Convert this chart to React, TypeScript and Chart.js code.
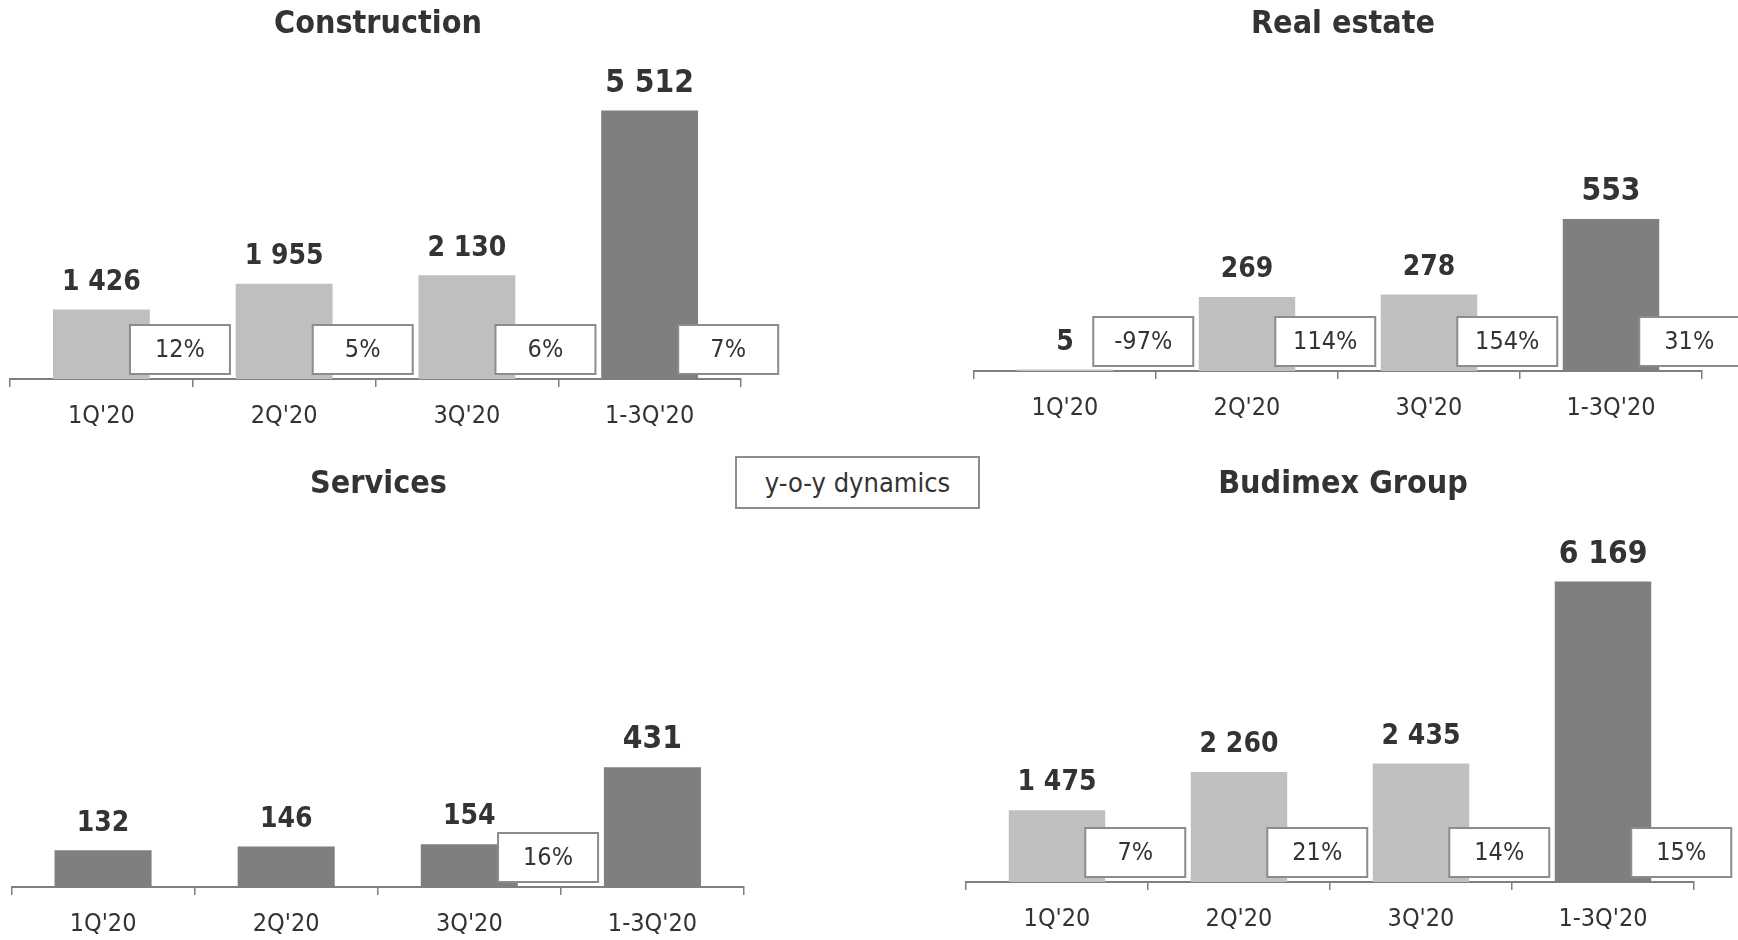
import React, { useEffect, useRef } from "react";
import { Chart, registerables } from "chart.js";

Chart.register(...registerables);

// ---------- data ----------
const categories = ["1Q'20", "2Q'20", "3Q'20", "1-3Q'20"];

const constructionTitle = "Construction";
const constructionValues = [1426, 1955, 2130, 5512];
const constructionYoY = ["12%", "5%", "6%", "7%"];

const realEstateTitle = "Real estate";
const realEstateValues = [5, 269, 278, 553];
const realEstateYoY = ["-97%", "114%", "154%", "31%"];

const servicesTitle = "Services";
const servicesValues = [132, 146, 154, 431];
const servicesYoY: (string | null)[] = [null, null, "16%", null];

const groupTitle = "Budimex Group";
const groupValues = [1475, 2260, 2435, 6169];
const groupYoY = ["7%", "21%", "14%", "15%"];

const legendLabel = "y-o-y dynamics";

// ---------- styles ----------
const LIGHT = "#bfbfbf";
const DARK = "#7f7f7f";
const TEXT = "#333333";
const AXIS = "#7f7f7f";
const FONT = "'DejaVu Sans Condensed', 'DejaVu Sans', sans-serif";

const lightDark = [LIGHT, LIGHT, LIGHT, DARK];
const allDark = [DARK, DARK, DARK, DARK];

function fmt(v: number): string {
  return String(v).replace(/\B(?=(\d{3})+(?!\d))/g, " ");
}

type PanelProps = {
  title: string;
  values: number[];
  yoy: (string | null)[];
  colors: string[];
  left: number;
  top: number;
  width: number;
  height: number;
  padLeft: number;
  padRight: number;
  titleX: number;
  yMax: number;
};

const TITLE_BLOCK = 54.4;

function Panel(p: PanelProps) {
  const ref = useRef<HTMLCanvasElement | null>(null);

  useEffect(() => {
    if (!ref.current) return;
    const annot = {
      id: "annot",
      afterDatasetsDraw(chart: any) {
        const ctx = chart.ctx;
        const meta = chart.getDatasetMeta(0);
        const xs = chart.scales.x;
        const catW = xs.getPixelForValue(1) - xs.getPixelForValue(0);
        const axisY = chart.chartArea.bottom;
        const n = meta.data.length;
        meta.data.forEach((bar: any, i: number) => {
          ctx.save();
          const size = i === n - 1 ? 31.5 : 28;
          ctx.font = `bold ${size}px ${FONT}`;
          ctx.fillStyle = TEXT;
          ctx.textAlign = "center";
          ctx.textBaseline = "middle";
          ctx.fillText(fmt(p.values[i]), bar.x, bar.y - 27);
          const t = p.yoy[i];
          if (t) {
            const cx = bar.x + 0.43 * catW;
            const w = 100;
            const h = 49;
            const bottom = axisY - 5;
            ctx.fillStyle = "#ffffff";
            ctx.fillRect(cx - w / 2, bottom - h, w, h);
            ctx.strokeStyle = "#8c8c8c";
            ctx.lineWidth = 2;
            ctx.strokeRect(cx - w / 2, bottom - h, w, h);
            ctx.font = `25px ${FONT}`;
            ctx.fillStyle = TEXT;
            ctx.fillText(t, cx, bottom - h / 2 + 1);
          }
          ctx.restore();
        });
      },
      afterDraw(chart: any) {
        const ctx = chart.ctx;
        ctx.save();
        ctx.font = `bold 32px ${FONT}`;
        ctx.fillStyle = TEXT;
        ctx.textAlign = "center";
        ctx.textBaseline = "middle";
        ctx.fillText(p.title, p.titleX - p.left, 25);
        ctx.restore();
      },
    };

    const chart = new Chart(ref.current, {
      type: "bar",
      data: {
        labels: categories,
        datasets: [
          {
            data: p.values,
            backgroundColor: p.colors,
            borderWidth: 0,
            categoryPercentage: 1,
            barPercentage: 0.53,
          },
        ],
      },
      options: {
        animation: false,
        responsive: false,
        devicePixelRatio: 1,
        layout: { padding: { left: p.padLeft, right: p.padRight, top: TITLE_BLOCK, bottom: 0 } },
        plugins: {
          legend: { display: false },
          tooltip: { enabled: false },
          title: { display: false },
        },
        scales: {
          x: {
            type: "category",
            offset: true,
            grid: {
              display: true,
              drawOnChartArea: false,
              drawTicks: true,
              tickLength: 8,
              color: AXIS,
              lineWidth: 1.5,
              offset: true,
            },
            border: { display: true, color: AXIS, width: 2 },
            ticks: {
              color: TEXT,
              font: { size: 25, family: FONT },
              padding: 14,
              maxRotation: 0,
              autoSkip: false,
            },
            afterFit: (s: any) => {
              s.height = 50;
            },
          },
          y: { display: false, min: 0, max: p.yMax },
        },
      },
      plugins: [annot],
    } as any);
    return () => chart.destroy();
  }, []);

  return (
    <canvas
      ref={ref}
      width={p.width}
      height={p.height}
      style={{ position: "absolute", left: p.left, top: p.top, width: p.width, height: p.height }}
    />
  );
}

export default function App() {
  return (
    <div style={{ position: "absolute", left: 0, top: 0, width: 1738, height: 940, background: "#fff", overflow: "hidden" }}>
      <Panel
        title={constructionTitle}
        values={constructionValues}
        yoy={constructionYoY}
        colors={lightDark}
        left={-30}
        top={0}
        width={816}
        height={429}
        padLeft={40}
        padRight={45}
        titleX={378}
        yMax={6665}
      />
      <Panel
        title={realEstateTitle}
        values={realEstateValues}
        yoy={realEstateYoY}
        colors={lightDark}
        left={940}
        top={0}
        width={806}
        height={421}
        padLeft={34}
        padRight={44}
        titleX={1343}
        yMax={1151}
      />
      <Panel
        title={servicesTitle}
        values={servicesValues}
        yoy={servicesYoY}
        colors={allDark}
        left={-30}
        top={460}
        width={817}
        height={477}
        padLeft={41.5}
        padRight={43}
        titleX={378.5}
        yMax={1340}
      />
      <Panel
        title={groupTitle}
        values={groupValues}
        yoy={groupYoY}
        colors={lightDark}
        left={940}
        top={460}
        width={806}
        height={472}
        padLeft={26}
        padRight={52}
        titleX={1343}
        yMax={7548}
      />
      <div
        style={{
          position: "absolute",
          left: 735,
          top: 456,
          width: 245,
          height: 53,
          boxSizing: "border-box",
          border: "2px solid #8c8c8c",
          display: "flex",
          alignItems: "center",
          justifyContent: "center",
          fontFamily: FONT,
          fontSize: 27,
          color: TEXT,
          background: "#fff",
        }}
      >
        {legendLabel}
      </div>
    </div>
  );
}
